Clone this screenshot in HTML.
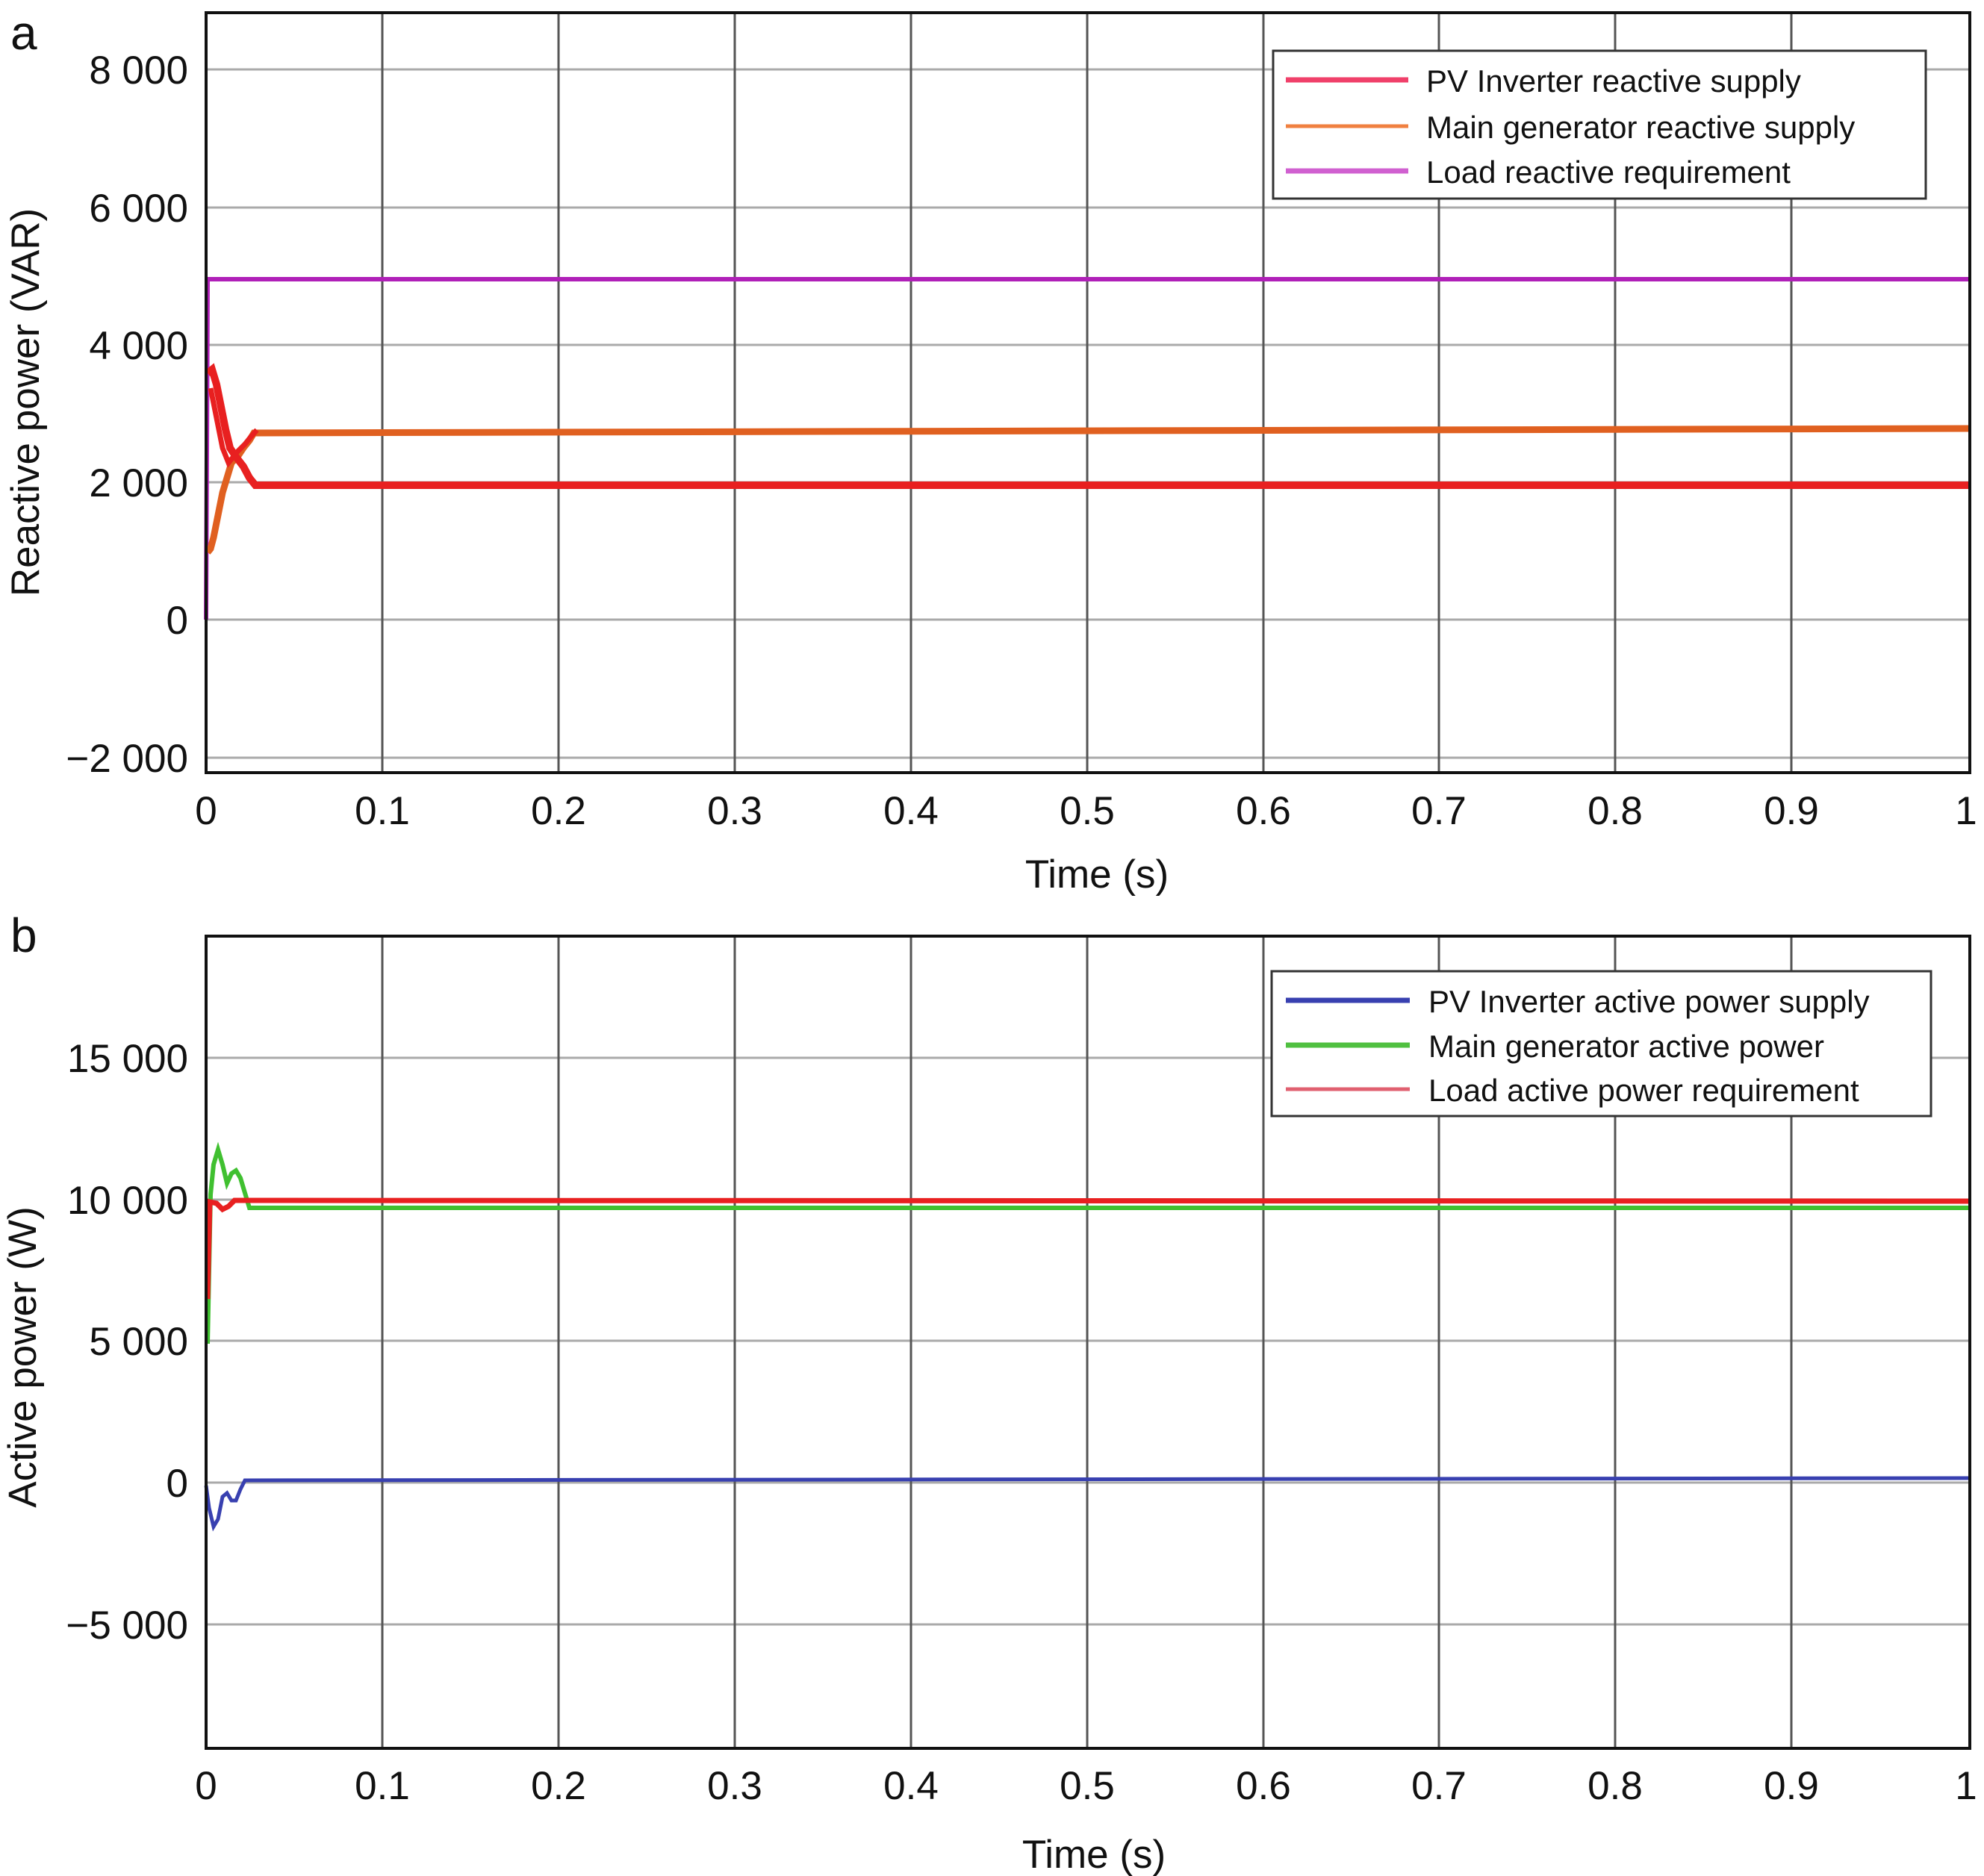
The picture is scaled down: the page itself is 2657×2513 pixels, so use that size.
<!DOCTYPE html>
<html><head><meta charset="utf-8"><style>
html,body{margin:0;padding:0;background:#fff}
svg{display:block}
text{font-family:"Liberation Sans",Arial,sans-serif;fill:#111}
</style></head><body>
<svg width="2657" height="2513" viewBox="0 0 2657 2513" xmlns="http://www.w3.org/2000/svg">
<!-- Panel a -->
<g stroke="#aaa" stroke-width="3">
<line x1="276" y1="93" x2="2638" y2="93"/><line x1="276" y1="278" x2="2638" y2="278"/>
<line x1="276" y1="462" x2="2638" y2="462"/><line x1="276" y1="646" x2="2638" y2="646"/>
<line x1="276" y1="830" x2="2638" y2="830"/><line x1="276" y1="1015" x2="2638" y2="1015"/>
</g>
<g stroke="#555" stroke-width="3">
<line x1="512" y1="17" x2="512" y2="1035"/><line x1="748" y1="17" x2="748" y2="1035"/>
<line x1="984" y1="17" x2="984" y2="1035"/><line x1="1220" y1="17" x2="1220" y2="1035"/>
<line x1="1456" y1="17" x2="1456" y2="1035"/><line x1="1692" y1="17" x2="1692" y2="1035"/>
<line x1="1927" y1="17" x2="1927" y2="1035"/><line x1="2163" y1="17" x2="2163" y2="1035"/>
<line x1="2399" y1="17" x2="2399" y2="1035"/>
</g>
<!-- series a -->
<polyline fill="none" stroke="#b020b8" stroke-width="6" points="276,830 278,374 2636,374"/>
<polyline fill="none" stroke="#e06020" stroke-width="9" points="278,740 282,735 286,720 292,690 298,660 304,640 310,620 318,612 326,600 334,590 340,580 2636,574"/>
<polyline fill="none" stroke="#e82020" stroke-width="10" points="278,500 284,495 290,515 296,545 302,575 308,600 316,612 326,625 334,640 342,650 2636,650"/>
<polyline fill="none" stroke="#e82020" stroke-width="7" points="282,520 290,560 298,600 306,620 318,605 328,595 336,585 344,576"/>
<rect x="276" y="17" width="2362" height="1018" fill="none" stroke="#111" stroke-width="4"/>
<!-- legend a -->
<rect x="1705" y="68" width="874" height="198" fill="#fff" stroke="#333" stroke-width="3"/>
<line x1="1722" y1="107" x2="1886" y2="107" stroke="#f0406a" stroke-width="7"/>
<line x1="1722" y1="169" x2="1886" y2="169" stroke="#f08040" stroke-width="5"/>
<line x1="1722" y1="229" x2="1886" y2="229" stroke="#d060d0" stroke-width="7"/>
<text x="1910" y="123" font-size="42">PV Inverter reactive supply</text>
<text x="1910" y="185" font-size="42">Main generator reactive supply</text>
<text x="1910" y="245" font-size="42">Load reactive requirement</text>
<!-- ticks labels a -->
<g font-size="53" text-anchor="end">
<text x="252" y="112">8 000</text><text x="252" y="297">6 000</text>
<text x="252" y="481">4 000</text><text x="252" y="665">2 000</text>
<text x="252" y="849">0</text><text x="252" y="1034">−2 000</text>
</g>
<g font-size="53" text-anchor="middle">
<text x="276" y="1104">0</text><text x="512" y="1104">0.1</text><text x="748" y="1104">0.2</text>
<text x="984" y="1104">0.3</text><text x="1220" y="1104">0.4</text><text x="1456" y="1104">0.5</text>
<text x="1692" y="1104">0.6</text><text x="1927" y="1104">0.7</text><text x="2163" y="1104">0.8</text>
<text x="2399" y="1104">0.9</text><text x="2633" y="1104">1</text>
</g>
<text x="1469" y="1189" font-size="53" text-anchor="middle">Time (s)</text>
<text transform="translate(52,539) rotate(-90)" font-size="53" text-anchor="middle">Reactive power (VAR)</text>
<text x="14" y="66" font-size="64">a</text>

<!-- Panel b -->
<g stroke="#aaa" stroke-width="3">
<line x1="276" y1="1417" x2="2638" y2="1417"/><line x1="276" y1="1607" x2="2638" y2="1607"/>
<line x1="276" y1="1796" x2="2638" y2="1796"/><line x1="276" y1="1986" x2="2638" y2="1986"/>
<line x1="276" y1="2176" x2="2638" y2="2176"/>
</g>
<g stroke="#555" stroke-width="3">
<line x1="512" y1="1254" x2="512" y2="2342"/><line x1="748" y1="1254" x2="748" y2="2342"/>
<line x1="984" y1="1254" x2="984" y2="2342"/><line x1="1220" y1="1254" x2="1220" y2="2342"/>
<line x1="1456" y1="1254" x2="1456" y2="2342"/><line x1="1692" y1="1254" x2="1692" y2="2342"/>
<line x1="1927" y1="1254" x2="1927" y2="2342"/><line x1="2163" y1="2342" x2="2163" y2="1254"/>
<line x1="2399" y1="1254" x2="2399" y2="2342"/>
</g>
<polyline fill="none" stroke="#40c030" stroke-width="6" points="278,1800 282,1600 286,1560 292,1540 298,1560 304,1585 310,1572 316,1568 322,1578 328,1598 334,1618 2636,1618"/>
<polyline fill="none" stroke="#e82020" stroke-width="7" points="278,1740 281,1610 290,1612 298,1620 306,1616 314,1608 2636,1609"/>
<polyline fill="none" stroke="#3840b0" stroke-width="5" points="276,1990 280,2020 286,2045 292,2035 298,2005 304,2000 310,2010 316,2010 322,1995 328,1983 2636,1980"/>
<rect x="276" y="1254" width="2362" height="1088" fill="none" stroke="#111" stroke-width="4"/>
<!-- legend b -->
<rect x="1703" y="1301" width="883" height="194" fill="#fff" stroke="#333" stroke-width="3"/>
<line x1="1722" y1="1340" x2="1888" y2="1340" stroke="#3840b0" stroke-width="7"/>
<line x1="1722" y1="1400" x2="1888" y2="1400" stroke="#50c040" stroke-width="7"/>
<line x1="1722" y1="1459" x2="1888" y2="1459" stroke="#e06070" stroke-width="5"/>
<text x="1913" y="1356" font-size="42">PV Inverter active power supply</text>
<text x="1913" y="1416" font-size="42">Main generator active power</text>
<text x="1913" y="1475" font-size="42">Load active power requirement</text>
<g font-size="53" text-anchor="end">
<text x="252" y="1436">15 000</text><text x="252" y="1626">10 000</text>
<text x="252" y="1815">5 000</text><text x="252" y="2005">0</text>
<text x="252" y="2195">−5 000</text>
</g>
<g font-size="53" text-anchor="middle">
<text x="276" y="2410">0</text><text x="512" y="2410">0.1</text><text x="748" y="2410">0.2</text>
<text x="984" y="2410">0.3</text><text x="1220" y="2410">0.4</text><text x="1456" y="2410">0.5</text>
<text x="1692" y="2410">0.6</text><text x="1927" y="2410">0.7</text><text x="2163" y="2410">0.8</text>
<text x="2399" y="2410">0.9</text><text x="2633" y="2410">1</text>
</g>
<text x="1465" y="2502" font-size="53" text-anchor="middle">Time (s)</text>
<text transform="translate(48,1818) rotate(-90)" font-size="53" text-anchor="middle">Active power (W)</text>
<text x="14" y="1275" font-size="64">b</text>
</svg>
</body></html>
